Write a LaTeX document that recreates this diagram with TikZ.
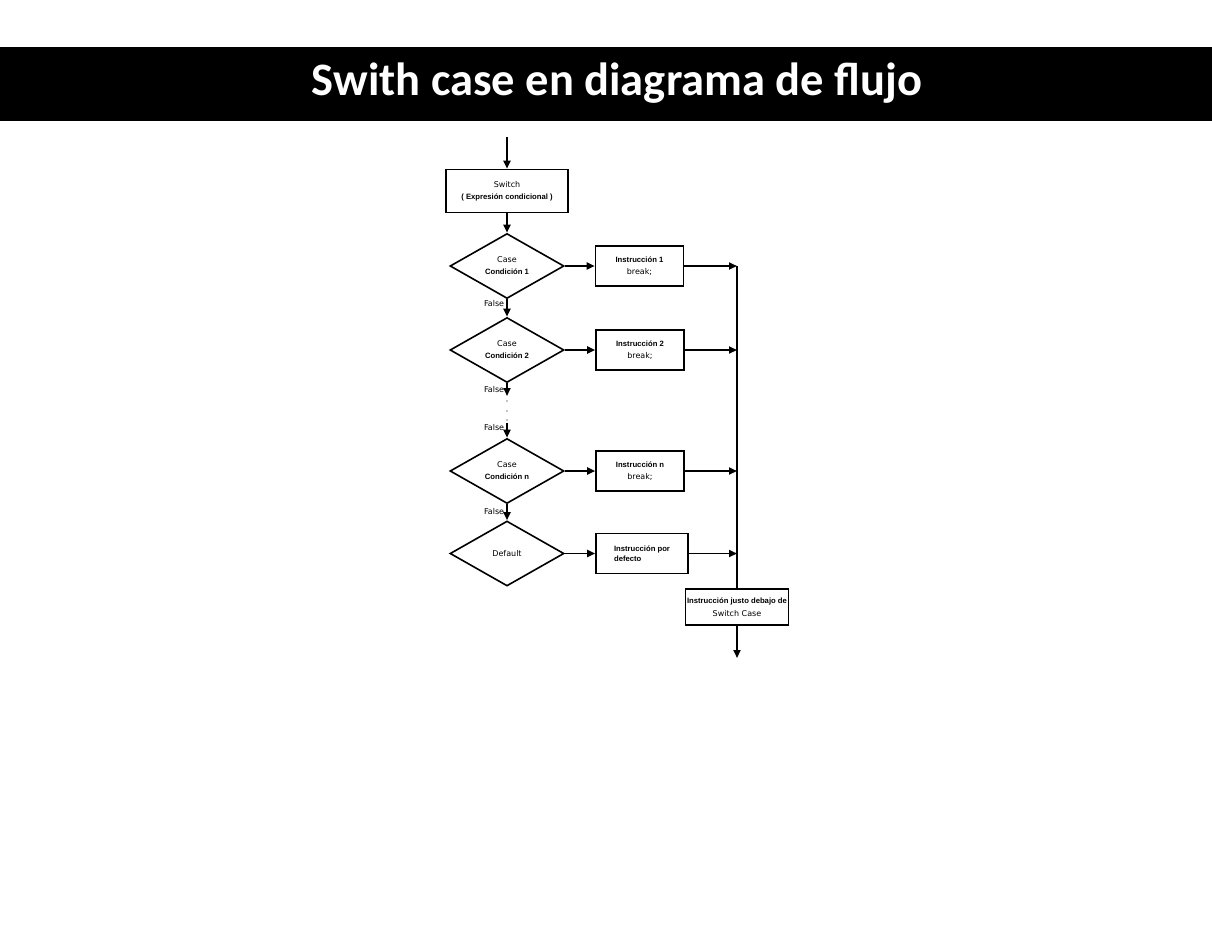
\documentclass[tikz,border=0pt]{standalone}
\usepackage{fontspec}
\setmainfont{DejaVu Sans}
\newfontfamily\negrita{Liberation Sans}[Scale=0.96]
\newfontfamily\titulo{Carlito}
\usetikzlibrary{shapes.geometric}
\usetikzlibrary{arrows.meta}
\newcommand{\negr}[1]{{\negrita\bfseries #1}}
\tikzset{x=1pt, y=-1pt,
every node/.style={
font=\fontsize{8}{12}\selectfont},
caja/.style={
draw, rectangle,
line width=1.6pt,
align=center,
inner sep=1pt,
minimum width=88pt,
minimum height=40pt},
decision/.style={
draw, diamond,
line width=1.6pt,
aspect=1.75,
minimum width=114pt,
minimum height=65pt,
inner sep=0pt,
align=center},
falso/.style={left, inner sep=2pt},
every edge/.style={
draw,
-{Triangle[length=8pt,width=7pt]},
line width=1.8pt}}

\begin{document}
\begin{tikzpicture}
\fill[white] (0,0) rectangle (1212,930);
\useasboundingbox (0,0) rectangle (1212,930);
\fill[black] (0,47) rectangle (1212,121);
\node[text=white, font=\titulo\bfseries\fontsize{46.5}{50}\selectfont] (tit) at (617,83) {Swith case en diagrama de flujo};
% bloque del switch
\coordinate (ini) at (507,137);
\node[caja, minimum width=122pt, minimum height=43pt] (sw) at (507,191) {Switch\\\negr{( Expresión condicional )}};
\node[decision] (c1) at (507,266) {Case\\\negr{Condición 1}};
\node[decision] (c2) at (507,350) {Case\\\negr{Condición 2}};
\coordinate (p1) at (507,396);
\coordinate (p2) at (507,423);
\node[decision] (cn) at (507,471) {Case\\\negr{Condición n}};
\node[decision] (cd) at (507,553.5) {Default};
% instrucciones
\node[caja] (i1) at (639.5,266) {\negr{Instrucción 1}\\break;};
\node[caja] (i2) at (640,350) {\negr{Instrucción 2}\\break;};
\node[caja] (in) at (640,471) {\negr{Instrucción n}\\break;};
\node[caja, minimum width=92pt, align=left, font=\fontsize{8}{10}\selectfont] (id) at (642,553.5) {\negr{Instrucción por}\\\negr{defecto}};
\node[caja, minimum width=103pt, minimum height=36pt, font=\fontsize{8}{13}\selectfont] (fin) at (737,607) {\negr{Instrucción justo debajo de}\\Switch Case};
\coordinate (fin0) at (737,658);
\coordinate (j1) at (fin.north |- i1.east);
\coordinate (j2) at (fin.north |- i2.east);
\coordinate (jn) at (fin.north |- in.east);
\coordinate (jd) at (fin.north |- id.east);
% conectores
\draw (ini) edge (sw);
\draw (sw) edge (c1);
\draw (c1) edge node[falso, pos=0.26] {False} (c2);
\draw (c2) edge node[falso, pos=0.45] {False} (p1);
\foreach \y in {401,411,420} \fill (507,\y) circle (0.7pt);
\draw (p2) edge node[falso, pos=0.3] {False} (cn);
\draw (cn) edge node[falso, pos=0.47] {False} (cd);
\draw (c1) edge (i1);
\draw (c2) edge (i2);
\draw (cn) edge (in);
\draw (cd) edge (id);
\draw (i1) edge (j1);
\draw (i2) edge (j2);
\draw (in) edge (jn);
\draw (id) edge (jd);
\draw[line width=1.8pt] (j1) -- (fin.north);
\draw (fin) edge (fin0);
\end{tikzpicture}
\end{document}
